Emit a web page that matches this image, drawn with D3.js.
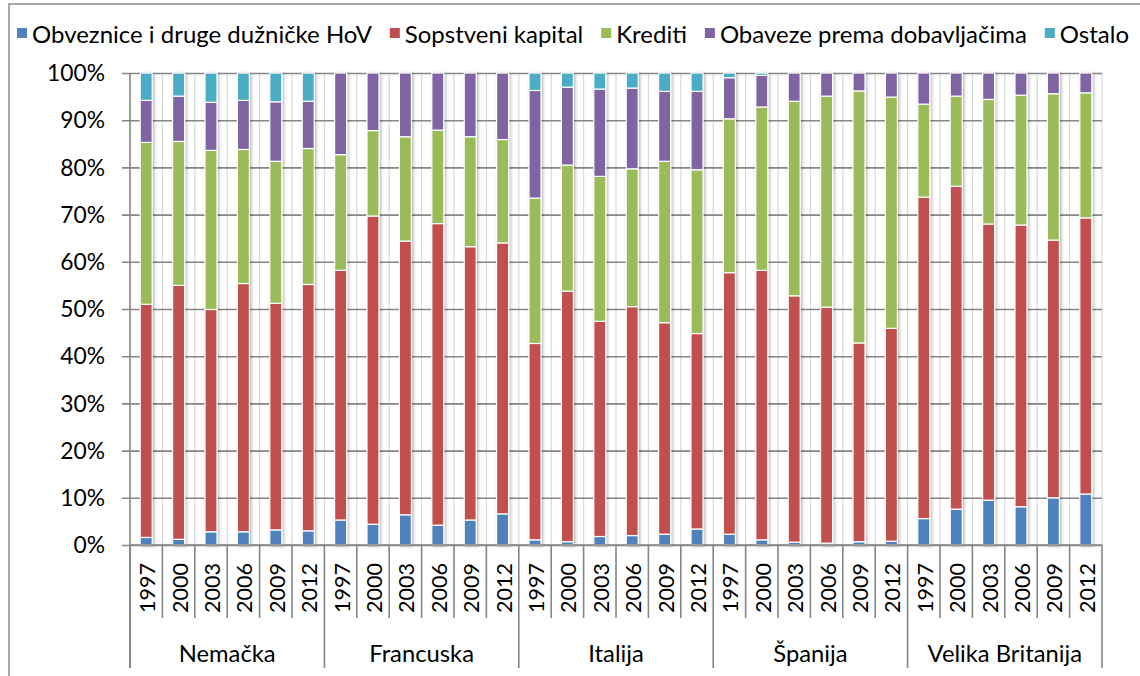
<!DOCTYPE html>
<html><head><meta charset="utf-8">
<script src="https://cdn.jsdelivr.net/npm/d3@7"></script>
<style>
body{margin:0;background:#fff}
svg{display:block}
text{font-family:Lato,"Open Sans",sans-serif;fill:#000}
</style>
</head><body>
<svg id="c" width="1140" height="676"></svg>
<script>
// ---------- data ----------
const countries = ["Nemačka","Francuska","Italija","Španija","Velika Britanija"];
const years = ["1997","2000","2003","2006","2009","2012"];
const seriesNames = ["Obveznice i druge dužničke HoV","Sopstveni kapital","Krediti","Obaveze prema dobavljačima","Ostalo"];
// values in % (order: Nemačka 1997..2012, Francuska, Italija, Španija, Velika Britanija)
const obveznice = [1.6,1.2,2.8,2.8,3.2,3.0, 5.3,4.4,6.4,4.2,5.3,6.6, 1.1,0.7,1.8,2.0,2.3,3.4, 2.3,1.1,0.6,0.4,0.7,0.8, 5.6,7.6,9.5,8.1,10.0,10.8];
const sopstveni = [49.4,53.8,47.1,52.6,48.0,52.2, 52.9,65.3,58.0,63.9,57.9,57.4, 41.6,53.1,45.6,48.5,44.8,41.4, 55.4,57.1,52.2,50.0,42.1,45.1, 68.1,68.4,58.5,59.7,54.6,58.5];
const krediti = [34.3,30.5,33.7,28.4,30.1,28.8, 24.5,18.1,22.1,19.8,23.3,21.9, 30.8,26.7,30.7,29.2,34.2,34.7, 32.6,34.6,41.2,44.7,53.4,49.0, 19.7,19.1,26.4,27.5,31.0,26.5];
const obaveze = [8.9,9.6,10.2,10.4,12.6,10.0, 17.3,12.2,13.5,12.1,13.5,14.1, 22.8,16.5,18.5,17.1,14.8,16.6, 8.7,6.7,6.0,4.9,3.8,5.1, 6.6,4.9,5.6,4.7,4.4,4.2];
const ostalo = [5.8,4.9,6.2,5.8,6.1,6.0, 0,0,0,0,0,0, 3.7,3.0,3.4,3.2,3.9,3.9, 1.0,0.5,0,0,0,0, 0,0,0,0,0,0];
const yTicks = [0,0.1,0.2,0.3,0.4,0.5,0.6,0.7,0.8,0.9,1.0];

// ---------- styles ----------
const colors = ["#4F81BD","#C0504D","#9BBB59","#8064A2","#4BACC6"];
const keys = ["obveznice","sopstveni","krediti","obaveze","ostalo"];
const cols = [obveznice,sopstveni,krediti,obaveze,ostalo];

const rows = [];
countries.forEach((c,ci)=>years.forEach((yr,yi)=>{
  const i = ci*years.length+yi;
  const r = {id:i, country:c, year:yr};
  keys.forEach((k,ki)=>r[k]=cols[ki][i]);
  rows.push(r);
}));

const svg = d3.select("#c");
const W=1140,H=676;
const pL=130,pR=1102,pT=73,pB=545;

// shadow filter
const defs = svg.append("defs");
const flt = defs.append("filter").attr("id","sh").attr("x","-50%").attr("y","-5%").attr("width","200%").attr("height","110%");
flt.append("feDropShadow").attr("dx",1.5).attr("dy",1).attr("stdDeviation",1.6).attr("flood-color","#000").attr("flood-opacity",0.28);

// frame
svg.append("rect").attr("x",9).attr("y",4).attr("width",W+20).attr("height",H+20)
  .attr("fill","none").attr("stroke","#8c8c8c").attr("stroke-width",1.5);

// font fitting helper
function fit(txt,target){
  const t = svg.append("text").attr("font-size",100).text(txt);
  const w = t.node().getComputedTextLength(); t.remove();
  return 100*target/w;
}
const fsY = fit("100%",58);
const fsYear = fit("1997",50);
const fsGroup = fit("Nemačka",97);
const fsLeg = fit(seriesNames[0],340);

const x = d3.scaleBand().domain(rows.map(d=>d.id)).range([pL,pR]).paddingInner(0).paddingOuter(0);
const y = d3.scaleLinear().domain([0,1]).range([pB,pT]);
const bw = x.bandwidth();

// vertical light gridlines at category boundaries
const bounds = d3.range(rows.length+1).map(i=>pL+i*bw);
svg.append("g").selectAll("line").data(bounds.slice(1)).join("line")
  .attr("x1",d=>d).attr("x2",d=>d).attr("y1",pT).attr("y2",pB)
  .attr("stroke","#d9d9d9").attr("stroke-width",1.2);

// horizontal gridlines (y axis)
const yAxis = d3.axisLeft(y).tickValues(yTicks).tickFormat(d3.format(".0%")).tickSize(8).tickPadding(17);
const ya = svg.append("g").attr("transform",`translate(${pL},0)`).call(yAxis);
ya.select(".domain").remove();
ya.selectAll(".tick line").attr("stroke","#868686").attr("stroke-width",1.6).attr("x1",-8).attr("x2",pR-pL);
ya.selectAll(".tick text").attr("font-size",fsY).attr("font-family","Lato").attr("fill","#000").attr("dy","0.34em");

// y axis line
svg.append("line").attr("x1",pL).attr("x2",pL).attr("y1",pT).attr("y2",668)
  .attr("stroke","#868686").attr("stroke-width",1.6);

// stacked bars
const stack = d3.stack().keys(keys).offset(d3.stackOffsetExpand);
const series = stack(rows);
const barW = 12;
const bars = svg.append("g").attr("filter","url(#sh)");
bars.selectAll("g").data(series).join("g").attr("fill",(d,i)=>colors[i])
  .selectAll("rect").data(d=>d.filter(s=>s[1]-s[0]>0)).join("rect")
  .attr("x",d=>x(d.data.id)+bw/2-barW/2)
  .attr("width",barW)
  .attr("y",d=>y(d[1]))
  .attr("height",d=>y(d[0])-y(d[1]))
  .attr("stroke","#fff").attr("stroke-width",1.2);

// x axis baseline
svg.append("line").attr("x1",pL).attr("x2",pR).attr("y1",pB).attr("y2",pB)
  .attr("stroke","#868686").attr("stroke-width",1.6);

// year tick lines below axis
svg.append("g").selectAll("line").data(bounds).join("line")
  .attr("x1",d=>d).attr("x2",d=>d).attr("y1",pB).attr("y2",(d,i)=> i%years.length===0 ? 668 : 618)
  .attr("stroke","#868686").attr("stroke-width",1.6);

// year labels
svg.append("g").selectAll("text").data(rows).join("text")
  .attr("transform",d=>`translate(${x(d.id)+bw/2+1},588) rotate(-90)`)
  .attr("text-anchor","middle").attr("dominant-baseline","central")
  .attr("font-size",fsYear).text(d=>d.year);

// group labels
const gw = bw*years.length;
svg.append("g").selectAll("text").data(countries).join("text")
  .attr("x",(d,i)=>pL+gw*i+gw/2).attr("y",653)
  .attr("text-anchor","middle").attr("dominant-baseline","central")
  .attr("font-size",fsGroup).text(d=>d);

// legend
const leg = svg.append("g");
const items = seriesNames.map((n,i)=>{
  const t = leg.append("text").attr("font-size",fsLeg).attr("y",33).attr("dominant-baseline","central").text(n);
  return {t, w:t.node().getComputedTextLength(), i};
});
const mk=10, gapMk=5;
const total = d3.sum(items,d=>mk+gapMk+d.w);
const gap = ((1129-17)-total)/(items.length-1);
let cx = 17;
items.forEach(d=>{
  leg.append("rect").attr("x",cx).attr("y",28).attr("width",mk).attr("height",mk).attr("fill",colors[d.i]);
  d.t.attr("x",cx+mk+gapMk);
  cx += mk+gapMk+d.w+gap;
});
</script>
</body></html>
